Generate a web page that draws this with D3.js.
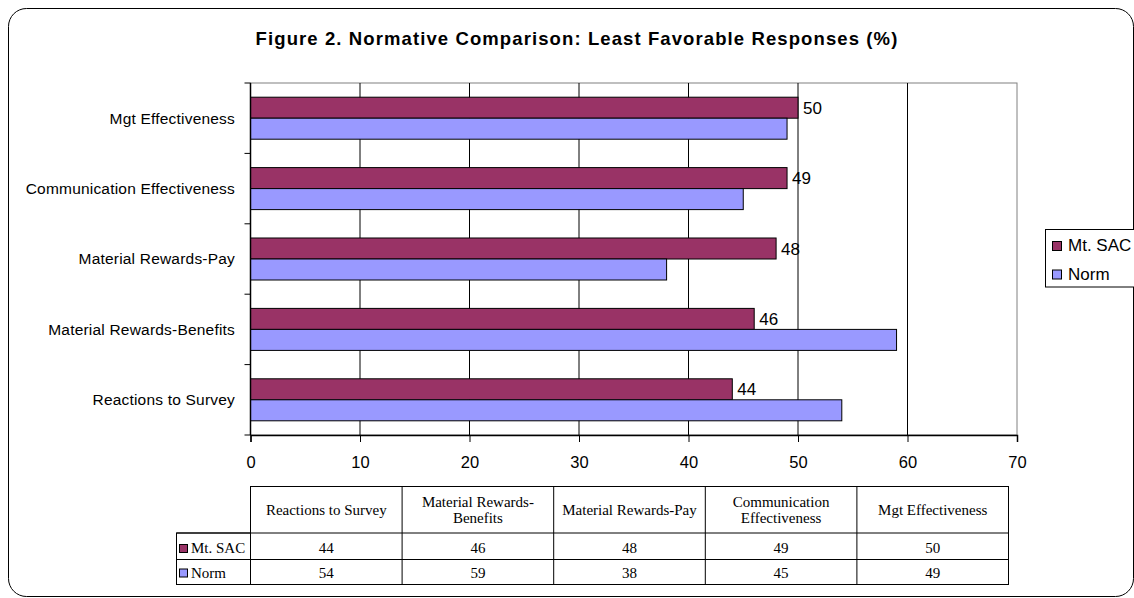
<!DOCTYPE html>
<html>
<head>
<meta charset="utf-8">
<script src="https://cdn.jsdelivr.net/npm/d3@7"></script>
<style>
  html, body { margin: 0; padding: 0; background: #fff; }
  svg { display: block; }
  .sans { font-family: "Liberation Sans", Arial, sans-serif; }
  .serif { font-family: "Liberation Serif", "Times New Roman", serif; }
</style>
</head>
<body>
<svg id="chart" width="1134" height="598"></svg>
<script>
// Categories, bottom to top on the chart (left to right in the data table)
const categories = [
  "Reactions to Survey",
  "Material Rewards-Benefits",
  "Material Rewards-Pay",
  "Communication Effectiveness",
  "Mgt Effectiveness"
];
const seriesNames = ["Mt. SAC", "Norm"];
const mtSacValues = [44, 46, 48, 49, 50];
const normValues = [54, 59, 38, 45, 49];
const xTickValues = [0, 10, 20, 30, 40, 50, 60, 70];
const tableHeaderLines = [
  ["Reactions to Survey"],
  ["Material Rewards-", "Benefits"],
  ["Material Rewards-Pay"],
  ["Communication", "Effectiveness"],
  ["Mgt Effectiveness"]
];
const titleText = "Figure 2. Normative Comparison: Least Favorable Responses (%)";

const seriesValues = { "Mt. SAC": mtSacValues, "Norm": normValues };
const colors = { "Mt. SAC": "#993366", "Norm": "#9999FF" };

const svg = d3.select("#chart");

// Outer chart frame
svg.append("rect")
  .attr("x", 8.5).attr("y", 8.5)
  .attr("width", 1125).attr("height", 588)
  .attr("rx", 18).attr("ry", 18)
  .attr("fill", "#fff").attr("stroke", "#000").attr("stroke-width", 1);

// Title, stretched to its full span
const title = svg.append("text")
  .attr("class", "sans")
  .attr("x", 577).attr("y", 44.5)
  .attr("text-anchor", "middle")
  .attr("font-size", 18.5).attr("font-weight", "bold")
  .attr("letter-spacing", "1.1px")
  .text(titleText);

// Plot area
const plot = { left: 250.5, right: 1017, top: 83, bottom: 435 };

const x = d3.scaleLinear().domain([0, 70]).range([plot.left, plot.right]);
const y = d3.scaleBand()
  .domain(categories.slice().reverse())
  .range([plot.top, plot.bottom])
  .padding(0);
const ySeries = d3.scaleBand()
  .domain(seriesNames)
  .range([0, y.bandwidth()])
  .paddingInner(0)
  .paddingOuter(0.676);

// Plot border
svg.append("rect")
  .attr("x", plot.left).attr("y", plot.top)
  .attr("width", plot.right - plot.left).attr("height", plot.bottom - plot.top)
  .attr("fill", "#fff").attr("stroke", "#808080").attr("stroke-width", 1);

// Vertical gridlines
svg.append("g")
  .selectAll("line")
  .data(xTickValues.filter(d => d > 0 && d < 70))
  .join("line")
  .attr("x1", d => x(d)).attr("x2", d => x(d))
  .attr("y1", plot.top).attr("y2", plot.bottom)
  .attr("stroke", "#000").attr("stroke-width", 1);

// Bars
const groups = svg.append("g")
  .selectAll("g")
  .data(categories)
  .join("g")
  .attr("transform", d => `translate(0,${y(d)})`);

groups.selectAll("rect")
  .data((c, i) => seriesNames.map(s => ({ series: s, value: seriesValues[s][i] })))
  .join("rect")
  .attr("x", x(0))
  .attr("y", d => ySeries(d.series))
  .attr("width", d => x(d.value) - x(0))
  .attr("height", ySeries.bandwidth())
  .attr("fill", d => colors[d.series])
  .attr("stroke", "#000").attr("stroke-width", 1);

// Value labels for Mt. SAC
groups.append("text")
  .attr("class", "sans")
  .attr("x", (c, i) => x(mtSacValues[i]) + 5)
  .attr("y", ySeries("Mt. SAC") + ySeries.bandwidth() / 2)
  .attr("dy", "0.36em")
  .attr("font-size", 17)
  .text((c, i) => mtSacValues[i]);

// Y axis (category axis)
const yAxis = svg.append("g");
yAxis.append("line")
  .attr("x1", plot.left).attr("x2", plot.left)
  .attr("y1", plot.top).attr("y2", plot.bottom)
  .attr("stroke", "#000").attr("stroke-width", 1.5);
const yBoundaries = categories.map(c => y(c)).concat([plot.bottom]);
yAxis.selectAll("line.tick")
  .data(yBoundaries)
  .join("line")
  .attr("class", "tick")
  .attr("x1", plot.left - 6).attr("x2", plot.left)
  .attr("y1", d => d).attr("y2", d => d)
  .attr("stroke", "#000").attr("stroke-width", 1);
yAxis.selectAll("text")
  .data(categories)
  .join("text")
  .attr("class", "sans")
  .attr("x", 235)
  .attr("y", d => y(d) + y.bandwidth() / 2)
  .attr("dy", "0.35em")
  .attr("text-anchor", "end")
  .attr("font-size", 15.5)
  .attr("letter-spacing", "0.2px")
  .text(d => d);

// X axis (value axis)
const xAxis = svg.append("g")
  .attr("transform", `translate(0,${plot.bottom})`)
  .call(d3.axisBottom(x).tickValues(xTickValues).tickSize(7).tickPadding(14).tickFormat(d3.format("d")));
xAxis.select(".domain").attr("stroke", "#000").attr("stroke-width", 1.5);
xAxis.selectAll(".tick line").attr("stroke", "#000");
xAxis.selectAll(".tick text")
  .attr("class", "sans")
  .attr("font-family", "'Liberation Sans', Arial, sans-serif")
  .attr("font-size", 16.5)
  .attr("fill", "#000");

// Legend
const legend = svg.append("g");
legend.append("rect")
  .attr("x", 1045.5).attr("y", 229.5)
  .attr("width", 110).attr("height", 57.5)
  .attr("fill", "#fff").attr("stroke", "#000").attr("stroke-width", 1);
const legendItems = legend.selectAll("g")
  .data(seriesNames)
  .join("g")
  .attr("transform", (d, i) => `translate(0,${251 + i * 28.5})`);
legendItems.append("rect")
  .attr("x", 1052.5).attr("y", -9.5)
  .attr("width", 9).attr("height", 9)
  .attr("fill", d => colors[d])
  .attr("stroke", "#000").attr("stroke-width", 1);
legendItems.append("text")
  .attr("class", "sans")
  .attr("x", 1068).attr("y", 0)
  .attr("font-size", 17)
  .text(d => d);

// Data table
const table = { left: 176.5, colStart: 250.5, right: 1008.5, top: 486.5, headBottom: 533, row1Bottom: 559.5, bottom: 584.5 };
const colX = d3.scaleBand()
  .domain(categories)
  .range([table.colStart, table.right])
  .padding(0);

const tg = svg.append("g").attr("class", "serif");
const lineStyle = sel => sel.attr("stroke", "#000").attr("stroke-width", 1).attr("fill", "none");

// Header cells outline
tg.append("rect")
  .attr("x", table.colStart).attr("y", table.top)
  .attr("width", table.right - table.colStart).attr("height", table.bottom - table.top)
  .call(lineStyle);
// Row label cells outline
tg.append("rect")
  .attr("x", table.left).attr("y", table.headBottom)
  .attr("width", table.colStart - table.left).attr("height", table.bottom - table.headBottom)
  .call(lineStyle);
// Horizontal rules
[table.headBottom, table.row1Bottom].forEach(yy => {
  tg.append("line")
    .attr("x1", table.left).attr("x2", table.right)
    .attr("y1", yy).attr("y2", yy)
    .call(lineStyle);
});
// Column separators
tg.selectAll("line.col")
  .data(categories.slice(1))
  .join("line")
  .attr("class", "col")
  .attr("x1", d => colX(d)).attr("x2", d => colX(d))
  .attr("y1", table.top).attr("y2", table.bottom)
  .call(lineStyle);

// Header text
const headerMid = (table.top + table.headBottom) / 2;
tg.selectAll("text.head")
  .data(categories)
  .join("text")
  .attr("class", "head")
  .attr("text-anchor", "middle")
  .attr("font-size", 15)
  .each(function (d, i) {
    const lines = tableHeaderLines[i];
    const cx = colX(d) + colX.bandwidth() / 2;
    const lh = 16;
    const first = headerMid + 5 - (lines.length - 1) * lh / 2;
    d3.select(this).selectAll("tspan")
      .data(lines)
      .join("tspan")
      .attr("x", cx)
      .attr("y", (l, j) => first + j * lh)
      .text(l => l);
  });

// Table rows
const rowBaselines = [553, 577.5];
seriesNames.forEach((s, r) => {
  const base = rowBaselines[r];
  tg.append("rect")
    .attr("x", 179.5).attr("y", base - 8.5)
    .attr("width", 8).attr("height", 8)
    .attr("fill", colors[s]).attr("stroke", "#000").attr("stroke-width", 1);
  tg.append("text")
    .attr("x", 191).attr("y", base)
    .attr("font-size", 15)
    .text(s);
  tg.selectAll(null)
    .data(categories)
    .join("text")
    .attr("x", d => colX(d) + colX.bandwidth() / 2)
    .attr("y", base)
    .attr("text-anchor", "middle")
    .attr("font-size", 15)
    .text((d, i) => seriesValues[s][i]);
});
</script>
</body>
</html>
